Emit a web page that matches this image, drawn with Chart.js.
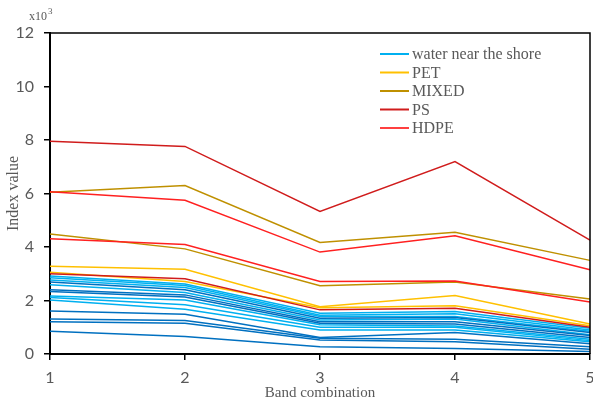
<!DOCTYPE html>
<html>
<head>
<meta charset="utf-8">
<title>Index value by band combination</title>
<script src="https://cdn.jsdelivr.net/npm/chart.js@4/dist/chart.umd.min.js"></script>
<style>
  body { margin: 0; background: #fff; }
  #wrap { width: 593px; height: 406px; }
</style>
</head>
<body>
<div id="wrap"><canvas id="indexChart" width="593" height="406"></canvas></div>
<script>
// band combinations on the x axis, index values in thousands
const bands = ["1", "2", "3", "4", "5"];
const yTicks = [0, 2, 4, 6, 8, 10, 12];

const waterLight = [
  [2.92, 2.62, 1.52, 1.59, 0.96],
  [2.85, 2.56, 1.45, 1.50, 0.90],
  [2.77, 2.49, 1.40, 1.40, 0.85],
  [2.59, 2.30, 1.27, 1.31, 0.72],
  [2.17, 2.02, 1.09, 1.05, 0.55],
  [2.11, 1.84, 1.00, 1.00, 0.50],
  [2.02, 1.67, 0.90, 0.90, 0.46]
];
const waterDeep = [
  [2.69, 2.40, 1.34, 1.36, 0.80],
  [2.40, 2.21, 1.21, 1.21, 0.69],
  [2.34, 2.13, 1.15, 1.12, 0.62],
  [1.61, 1.49, 0.62, 0.80, 0.38],
  [1.31, 1.25, 0.59, 0.55, 0.27],
  [1.21, 1.15, 0.52, 0.46, 0.18],
  [0.85, 0.65, 0.27, 0.21, 0.09]
];
const pet = [
  [3.28, 3.17, 1.77, 2.19, 1.12],
  [3.06, 2.71, 1.73, 1.80, 1.06]
];
const mixed = [
  [6.05, 6.30, 4.17, 4.55, 3.50],
  [4.49, 3.93, 2.55, 2.69, 2.06]
];
const ps = [
  [7.95, 7.76, 5.33, 7.19, 4.26],
  [3.00, 2.81, 1.65, 1.71, 1.00]
];
const hdpe = [
  [6.07, 5.75, 3.81, 4.42, 3.15],
  [4.31, 4.09, 2.71, 2.73, 1.94]
];

const legendEntries = [
  { label: "water near the shore", color: "#00b0f0" },
  { label: "PET", color: "#ffc000" },
  { label: "MIXED", color: "#bf9000" },
  { label: "PS", color: "#d01c1c" },
  { label: "HDPE", color: "#ff4040" }
];

function lines(group, color) {
  return group.map(values => ({
    data: values,
    borderColor: color,
    borderWidth: 1.5,
    pointRadius: 0,
    tension: 0,
    fill: false
  }));
}

// first dataset ends up on top, so the plastics go before the water lines
const datasets = [
  ...lines(ps, "#d01c1c"),
  ...lines(hdpe, "#ff2020"),
  ...lines(mixed, "#bf9000"),
  ...lines(pet, "#ffc000"),
  ...lines(waterDeep, "#0070c0"),
  ...lines(waterLight, "#00b0f0")
];

const extras = {
  id: "extras",
  afterDraw(chart) {
    const { ctx, chartArea: a } = chart;
    ctx.save();

    // top and right edges of the frame
    ctx.strokeStyle = "#000";
    ctx.lineWidth = 1.5;
    ctx.beginPath();
    ctx.moveTo(a.left, a.top);
    ctx.lineTo(a.right, a.top);
    ctx.lineTo(a.right, a.bottom);
    ctx.stroke();

    // multiplier above the y axis
    ctx.fillStyle = "#595959";
    ctx.textBaseline = "alphabetic";
    ctx.font = "12px 'Liberation Serif'";
    ctx.fillText("x10", 29, 20);
    const w = ctx.measureText("x10").width;
    ctx.font = "9px 'Liberation Serif'";
    ctx.fillText("3", 29 + w + 1, 14);

    // legend inside the plot
    ctx.font = "16px 'Liberation Serif'";
    ctx.textBaseline = "middle";
    legendEntries.forEach((e, i) => {
      const y = a.top + 21 + i * 18.5;
      ctx.strokeStyle = e.color;
      ctx.lineWidth = 2;
      ctx.beginPath();
      ctx.moveTo(a.left + 330, y);
      ctx.lineTo(a.left + 359, y);
      ctx.stroke();
      ctx.fillStyle = "#595959";
      ctx.fillText(e.label, a.left + 362, y + 1);
    });

    ctx.restore();
  }
};

const tickFont = { family: "Lato", size: 16 };
const titleFont = { family: "'Liberation Serif'", size: 15 };

new Chart(document.getElementById("indexChart"), {
  type: "line",
  data: { labels: bands, datasets: datasets },
  options: {
    responsive: false,
    animation: false,
    layout: { padding: { top: 33, right: 3, left: 0, bottom: 0 } },
    plugins: {
      legend: { display: false },
      tooltip: { enabled: false }
    },
    scales: {
      x: {
        type: "category",
        offset: false,
        ticks: { color: "#595959", font: tickFont, padding: 8, maxRotation: 0 },
        grid: { drawOnChartArea: false, drawTicks: true, tickLength: 6, color: "#000", lineWidth: 1.5 },
        border: { color: "#000", width: 2 },
        title: {
          display: true,
          text: "Band combination",
          color: "#595959",
          font: titleFont,
          padding: { top: 0, bottom: 4 }
        },
        afterFit(scale) {
          scale.height = 52;
          // let the last label hang off the edge instead of shrinking the plot
          scale.paddingLeft = 0;
          scale.paddingRight = 0;
        }
      },
      y: {
        min: 0,
        max: 12,
        afterBuildTicks(scale) { scale.ticks = yTicks.map(v => ({ value: v })); },
        ticks: { color: "#595959", font: tickFont, padding: 10 },
        grid: { drawOnChartArea: false, drawTicks: true, tickLength: 6, color: "#000", lineWidth: 1.5 },
        border: { color: "#000", width: 2 },
        title: {
          display: true,
          text: "Index value",
          color: "#595959",
          font: { family: "'Liberation Serif'", size: 16 },
          padding: { top: 4, bottom: 0 }
        },
        afterFit(scale) { scale.width = 50; }
      }
    }
  },
  plugins: [extras]
});
</script>
</body>
</html>
